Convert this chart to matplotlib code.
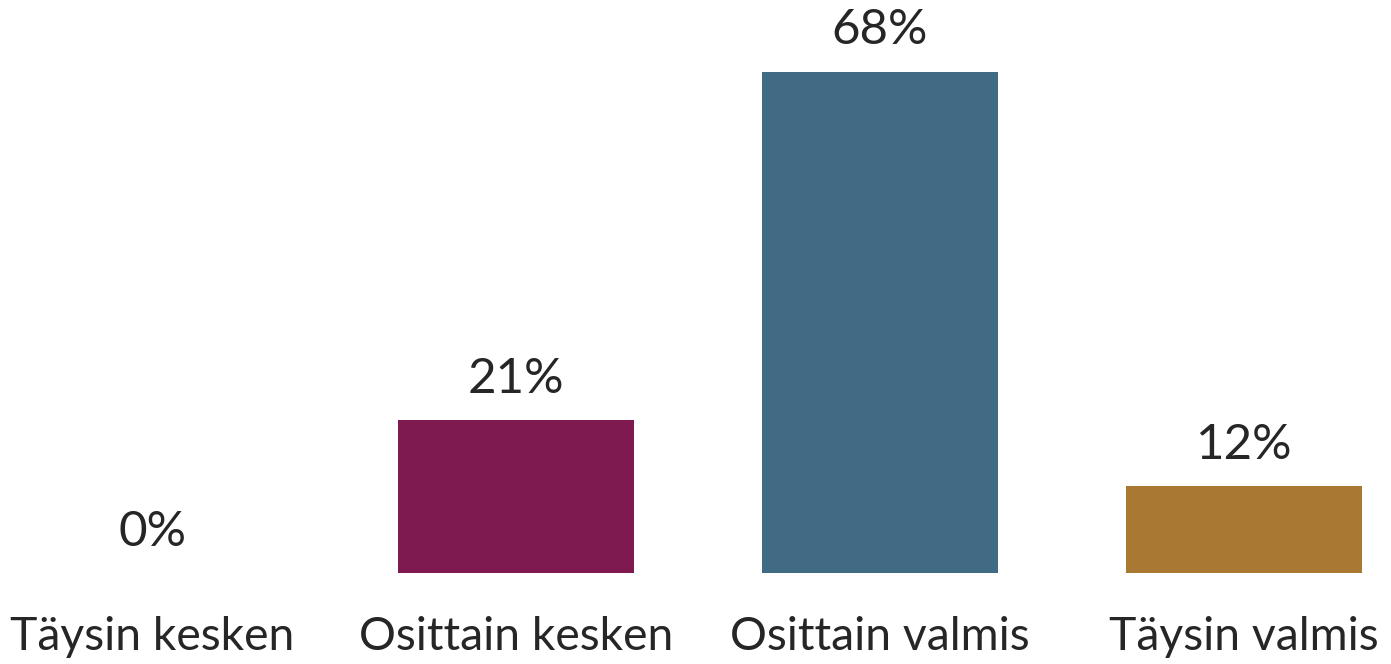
import matplotlib.pyplot as plt

categories = ['Täysin kesken', 'Osittain kesken', 'Osittain valmis', 'Täysin valmis']
values = [0, 20.7, 68, 11.8]
labels = ['0%', '21%', '68%', '12%']
colors = ['#7f1a50', '#7f1a50', '#416a84', '#a97833']

plt.rcParams['font.family'] = ['Lato', 'DejaVu Sans']

fig = plt.figure(figsize=(13.91, 6.64), dpi=100)
ax = fig.add_axes([0, 91 / 664, 1, 553 / 664])

x = range(len(categories))
ax.bar(x, values, width=0.646, color=colors)
for i, (v, lab) in enumerate(zip(values, labels)):
    ax.annotate(lab, (i, v), xytext=(0, 14), textcoords='offset points',
                ha='center', va='bottom', fontsize=35.5, color='#262626')

ax.set_xlim(-152 / 364, 3 + 147 / 364)
ax.set_ylim(0, 75)
ax.set_xticks(list(x))
ax.set_xticklabels(categories, fontsize=33.3, color='#262626')
ax.tick_params(axis='x', length=0, pad=31)
ax.set_yticks([])
for s in ax.spines.values():
    s.set_visible(False)

fig.savefig('out.png', dpi=100)
